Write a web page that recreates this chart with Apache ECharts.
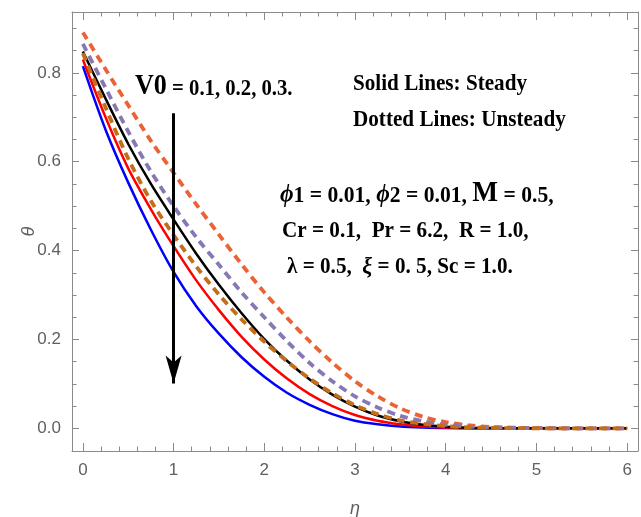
<!DOCTYPE html>
<html>
<head>
<meta charset="utf-8">
<script src="https://cdn.jsdelivr.net/npm/echarts@6/dist/echarts.min.js"></script>
<style>
html,body{margin:0;padding:0;background:#fff;}
#chart{width:641px;height:517px;}
</style>
</head>
<body>
<div id="chart"></div>
<script>
// ---- data ----
const etaValues = [0,0.25,0.5,0.75,1,1.25,1.5,1.75,2,2.25,2.5,2.75,3,3.25,3.5,3.75,4,4.25,4.5,5,5.5,6];
// Solid lines: steady
const steadyV01 = [0.848,0.742,0.640,0.550,0.470,0.393,0.323,0.259,0.201,0.152,0.110,0.076,0.049,0.029,0.016,0.008,0.0035,0.0014,0.0005,0,0,0];
const steadyV02 = [0.830,0.700,0.585,0.493,0.410,0.333,0.266,0.206,0.155,0.112,0.077,0.050,0.030,0.017,0.009,0.004,0.0017,0.0007,0.0003,0,0,0];
const steadyV03 = [0.815,0.672,0.553,0.447,0.352,0.275,0.213,0.160,0.116,0.080,0.053,0.032,0.017,0.009,0.004,0.0018,0.0007,0.0003,0.0001,0,0,0];
// Dotted lines: unsteady
const unsteadyV01 = [0.891,0.808,0.727,0.647,0.575,0.504,0.436,0.369,0.306,0.249,0.196,0.148,0.106,0.072,0.045,0.026,0.014,0.007,0.003,0.0006,0.0001,0];
const unsteadyV02 = [0.865,0.766,0.668,0.578,0.500,0.430,0.368,0.306,0.250,0.196,0.147,0.106,0.072,0.047,0.028,0.016,0.008,0.004,0.002,0.0004,0,0];
const unsteadyV03 = [0.844,0.722,0.607,0.512,0.435,0.364,0.301,0.245,0.195,0.151,0.112,0.079,0.052,0.032,0.018,0.010,0.005,0.0023,0.001,0.0002,0,0];
// tick labels
const xTickValues = [0,1,2,3,4,5,6];
const yTickValues = [0,0.2,0.4,0.6,0.8];
// arrow annotation (eta, theta from -> to)
const arrowEta = 1.0;
const arrowFrom = 0.709;
const arrowTo = 0.101;

// ---- styling ----
const FRAME = '#8a8a8a';
const LABEL = '#606060';
const tickFont = '"Liberation Sans", Arial, sans-serif';
const annFont = '"Liberation Serif", "Times New Roman", serif';
const xMin = -0.12, xMax = 6.12, yMin = -0.051, yMax = 0.937;

const xMinorValues = [];
for (let i = 0; i <= 30; i++) { if (i % 5 !== 0) xMinorValues.push(+(i * 0.2).toFixed(2)); }
const yMinorValues = [];
for (let i = 0; i <= 18; i++) { if (i % 4 !== 0) yMinorValues.push(+(i * 0.05).toFixed(2)); }

function ax(min, max, extra) {
  const base = {
    type: 'value', min: min, max: max,
    splitLine: { show: false },
    axisLine: { show: false, onZero: false, lineStyle: { color: FRAME, width: 1 } },
    axisTick: { show: false },
    axisLabel: { show: false },
    axisPointer: { show: false },
    nameMoveOverlap: false
  };
  return Object.assign(base, extra);
}
function ticks(vals, len) {
  return { show: true, inside: true, length: len, customValues: vals, lineStyle: { color: FRAME, width: 1 } };
}
const lineOn = { show: true, onZero: false, lineStyle: { color: FRAME, width: 1 } };

const xData = (vals) => etaValues.map((x, i) => [x, vals[i]]);

function solid(name, vals, color) {
  return { name, type: 'line', data: xData(vals), showSymbol: false, smooth: 0.3,
    lineStyle: { color, width: 2.5 }, itemStyle: { color }, z: 2 };
}
function dashed(name, vals, color) {
  return { name, type: 'line', data: xData(vals), showSymbol: false, smooth: 0.3,
    lineStyle: { color, width: 3.8, type: [8, 5.5], cap: 'butt' }, itemStyle: { color }, z: 3 };
}

const chart = echarts.init(document.getElementById('chart'), null, { renderer: 'canvas' });
const option = {
  animation: false,
  backgroundColor: '#fff',
  grid: { left: 72, right: 3, top: 12, bottom: 66, containLabel: false, outerBoundsMode: 'none' },
  xAxis: [
    ax(xMin, xMax, { position: 'bottom', axisLine: lineOn, axisTick: ticks(xTickValues, 8),
      axisLabel: { show: true, customValues: xTickValues, color: LABEL, fontFamily: tickFont, fontSize: 17, margin: 11,
        formatter: (v) => String(Math.round(v)) },
      name: 'η', nameLocation: 'middle', nameGap: 49,
      nameTextStyle: { color: LABEL, fontFamily: tickFont, fontStyle: 'italic', fontSize: 18 } }),
    ax(xMin, xMax, { position: 'bottom', axisTick: ticks(xMinorValues, 4.5) }),
    ax(xMin, xMax, { position: 'top', axisLine: lineOn, axisTick: ticks(xTickValues, 8) }),
    ax(xMin, xMax, { position: 'top', axisTick: ticks(xMinorValues, 4.5) })
  ],
  yAxis: [
    ax(yMin, yMax, { position: 'left', axisLine: lineOn, axisTick: ticks(yTickValues, 7),
      axisLabel: { show: true, customValues: yTickValues, color: LABEL, fontFamily: tickFont, fontSize: 17, margin: 11,
        formatter: (v) => v.toFixed(1) },
      name: 'θ', nameLocation: 'middle', nameGap: 34, nameRotate: 90,
      nameTextStyle: { color: LABEL, fontFamily: tickFont, fontStyle: 'italic', fontSize: 18 } }),
    ax(yMin, yMax, { position: 'left', axisTick: ticks(yMinorValues, 4.5) }),
    ax(yMin, yMax, { position: 'right', axisLine: lineOn, axisTick: ticks(yTickValues, 7) }),
    ax(yMin, yMax, { position: 'right', axisTick: ticks(yMinorValues, 4.5) })
  ],
  series: [
    solid('Steady V0=0.3', steadyV03, '#0000ff'),
    solid('Steady V0=0.2', steadyV02, '#ff0000'),
    solid('Steady V0=0.1', steadyV01, '#000000'),
    dashed('Unsteady V0=0.1', unsteadyV01, '#eb6235'),
    dashed('Unsteady V0=0.2', unsteadyV02, '#8778b3'),
    dashed('Unsteady V0=0.3', unsteadyV03, '#c56e1a'),
    {
      name: 'arrow', type: 'line', data: [], z: 5,
      markLine: {
        silent: true, animation: false,
        symbol: ['none', 'arrow'], symbolSize: [12, 28],
        label: { show: false },
        lineStyle: { color: '#000', width: 3, type: 'solid' },
        emphasis: { disabled: true },
        data: [[{ coord: [arrowEta, arrowFrom] }, { coord: [arrowEta, arrowTo] }]]
      }
    }
  ],
  graphic: [
    { type: 'text', x: 135, y: 101, scaleX: 0.9, z: 10,
      style: { text: '{v|V0}{n| = 0.1, 0.2, 0.3.}', verticalAlign: 'bottom', fill: '#000',
        rich: { v: { fontSize: 29, fontWeight: 'bold', fontFamily: annFont, verticalAlign: 'bottom' },
                n: { fontSize: 23, fontWeight: 'bold', fontFamily: annFont, verticalAlign: 'bottom' } } } },
    { type: 'text', x: 353, y: 96, scaleX: 0.92, z: 10,
      style: { text: 'Solid Lines: Steady', verticalAlign: 'bottom', fill: '#000',
        fontSize: 23, fontWeight: 'bold', fontFamily: annFont } },
    { type: 'text', x: 353, y: 132, scaleX: 0.92, z: 10,
      style: { text: 'Dotted Lines: Unsteady', verticalAlign: 'bottom', fill: '#000',
        fontSize: 23, fontWeight: 'bold', fontFamily: annFont } },
    { type: 'text', x: 280, y: 208, scaleX: 0.94, z: 10,
      style: { text: '{p|ϕ}{n|1 = 0.01, }{p|ϕ}{n|2 = 0.01, }{m|M}{n| = 0.5,}', verticalAlign: 'bottom', fill: '#000',
        rich: { p: { fontSize: 25, fontWeight: 'bold', fontStyle: 'italic', fontFamily: annFont, verticalAlign: 'bottom' },
                n: { fontSize: 23, fontWeight: 'bold', fontFamily: annFont, verticalAlign: 'bottom' },
                m: { fontSize: 29, fontWeight: 'bold', fontFamily: annFont, verticalAlign: 'bottom' } } } },
    { type: 'text', x: 282, y: 243, scaleX: 0.92, z: 10,
      style: { text: 'Cr = 0.1,  Pr = 6.2,  R = 1.0,', verticalAlign: 'bottom', fill: '#000',
        fontSize: 23, fontWeight: 'bold', fontFamily: annFont } },
    { type: 'text', x: 287, y: 279, scaleX: 0.92, z: 10,
      style: { text: '{n|λ = 0.5,  }{p|ξ}{n| = 0. 5, Sc = 1.0.}', verticalAlign: 'bottom', fill: '#000',
        rich: { p: { fontSize: 24, fontWeight: 'bold', fontStyle: 'italic', fontFamily: annFont, verticalAlign: 'bottom' },
                n: { fontSize: 23, fontWeight: 'bold', fontFamily: annFont, verticalAlign: 'bottom' } } } }
  ]
};
chart.setOption(option);
</script>
</body>
</html>
